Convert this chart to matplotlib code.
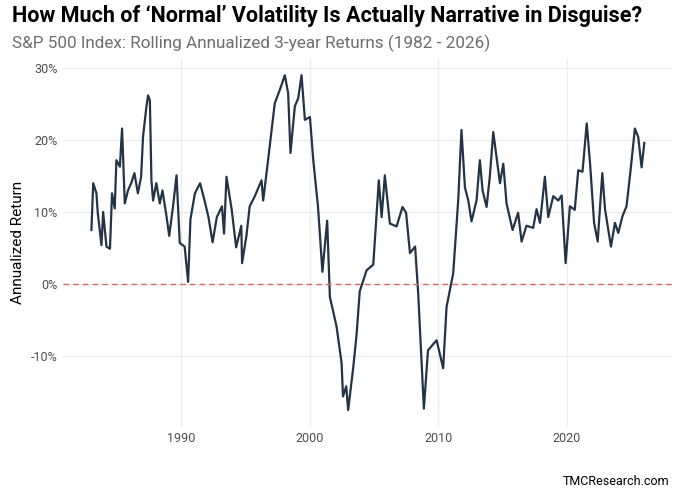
import matplotlib
matplotlib.use("Agg")
import matplotlib.pyplot as plt
from matplotlib.ticker import FuncFormatter

plt.rcParams['font.family'] = ['Roboto', 'DejaVu Sans']

# values (year, annualized 3-yr return in %)
years = [1983.06, 1983.2, 1983.45, 1983.55, 1983.84, 1983.97, 1984.23, 1984.5, 1984.66, 1984.87,
         1985.0, 1985.27, 1985.44, 1985.65, 1985.9, 1986.15, 1986.4, 1986.67, 1986.92, 1987.07,
         1987.33, 1987.46, 1987.6, 1987.72, 1987.85, 1988.1, 1988.37, 1988.58, 1988.9, 1989.1,
         1989.4, 1989.67, 1989.92, 1990.3, 1990.57, 1990.75, 1991.1, 1991.5, 1991.9, 1992.15,
         1992.47, 1992.8, 1993.2, 1993.36, 1993.55, 1993.95, 1994.3, 1994.7, 1994.76, 1995.1,
         1995.35, 1995.75, 1996.27, 1996.4, 1996.78, 1997.04, 1997.3, 1997.7, 1998.08, 1998.34,
         1998.52, 1998.86, 1999.12, 1999.38, 1999.64, 2000.03, 2000.29, 2000.66, 2001.0, 2001.37,
         2001.58, 2002.1, 2002.49, 2002.6, 2002.85, 2003.0, 2003.4, 2003.65, 2003.9, 2004.43,
         2004.95, 2005.38, 2005.6, 2005.85, 2006.24, 2006.76, 2007.22, 2007.5, 2007.8, 2008.2,
         2008.44, 2008.63, 2008.88, 2009.2, 2009.87, 2010.38, 2010.64, 2011.16, 2011.55, 2011.8,
         2012.07, 2012.33, 2012.58, 2012.97, 2013.23, 2013.44, 2013.75, 2014.0, 2014.27, 2014.53,
         2014.79, 2015.05, 2015.3, 2015.77, 2016.2, 2016.47, 2016.85, 2017.37, 2017.63, 2017.9,
         2018.28, 2018.54, 2018.93, 2019.32, 2019.58, 2019.89, 2020.22, 2020.6, 2020.87, 2021.2,
         2021.53, 2021.79, 2022.1, 2022.38, 2022.74, 2022.95, 2023.41, 2023.72, 2023.98, 2024.3,
         2024.62, 2024.94, 2025.27, 2025.53, 2025.79, 2026.0]
returns = [7.5, 14.0, 12.6, 9.9, 5.4, 10, 5.2, 4.9, 12.6, 10.5,
           17.2, 16.3, 21.6, 11.2, 13, 14, 15.4, 12.6, 14.9, 20.5,
           24.6, 26.2, 25.5, 14.4, 11.6, 14, 11.2, 13, 9.3, 6.7,
           10.8, 15.1, 5.7, 5.2, 0.3, 9, 12.6, 14, 11.2, 9.3,
           5.8, 9.3, 10.8, 7.0, 14.9, 10.4, 5.1, 8.1, 2.9, 6.7,
           10.8, 12.2, 14.4, 11.6, 17.2, 21.2, 25.1, 27, 29, 26.5,
           18.2, 24.7, 25.8, 29, 22.8, 23.2, 17.2, 10.7, 1.7, 8.8,
           -1.8, -5.9, -11, -15.6, -14.2, -17.5, -11.5, -7.1, -1, 1.9,
           2.7, 14.4, 9.3, 15.1, 8.4, 8.0, 10.7, 9.9, 4.3, 5.2,
           -1.3, -8.3, -17.3, -9.2, -7.8, -11.7, -3.2, 1.5, 11.7, 21.4,
           13.4, 11.6, 8.7, 11.6, 17.2, 13, 10.7, 14.9, 21.1, 17.6,
           14, 16.7, 11.2, 7.5, 9.9, 5.9, 8.1, 7.8, 10.4, 8.5,
           14.9, 9.3, 12.2, 11.6, 12.3, 2.9, 10.8, 10.3, 15.8, 15.6,
           22.3, 16.7, 8.5, 5.9, 15.4, 10.4, 5.2, 8.5, 7.1, 9.4,
           10.8, 15.9, 21.6, 20.4, 16.2, 19.6]

x_ticks = [1990, 2000, 2010, 2020]
y_ticks = [-10, 0, 10, 20, 30]

fig = plt.figure(figsize=(6.8, 4.97), dpi=100)
ax = fig.add_axes([0.0926, 0.1416, 0.8956, 0.7404])

ax.plot(years, returns, color="#233446", lw=1.6)
ax.axhline(0, color="#d9695f", lw=1, ls=(0, (4, 3)))

ax.set_xlim(1980.85, 2028.15)
ax.set_ylim(-19.8, 31.3)
ax.set_xticks(x_ticks)
ax.set_yticks(y_ticks)
ax.yaxis.set_major_formatter(FuncFormatter(lambda v, p: f"{v:.0f}%"))
ax.grid(True, color="#ebebeb", lw=0.9)
ax.set_axisbelow(True)
for s in ax.spines.values():
    s.set_visible(False)
ax.tick_params(length=0, labelsize=9, colors="#4d4d4d", pad=4)
ax.set_ylabel("Annualized Return", fontsize=11, color="black")

fig.text(0.018, 0.968, "How Much of \u2018Normal\u2019 Volatility Is Actually Narrative in Disguise?",
         fontsize=15.5, fontweight="bold", va="center")
fig.text(0.018, 0.913, "S&P 500 Index: Rolling Annualized 3-year Returns (1982 - 2026)",
         fontsize=12.3, color="#6e6e6e", va="center")
fig.text(0.985, 0.032, "TMCResearch.com", fontsize=9, ha="right", va="center")

fig.savefig("out.png", dpi=100)
